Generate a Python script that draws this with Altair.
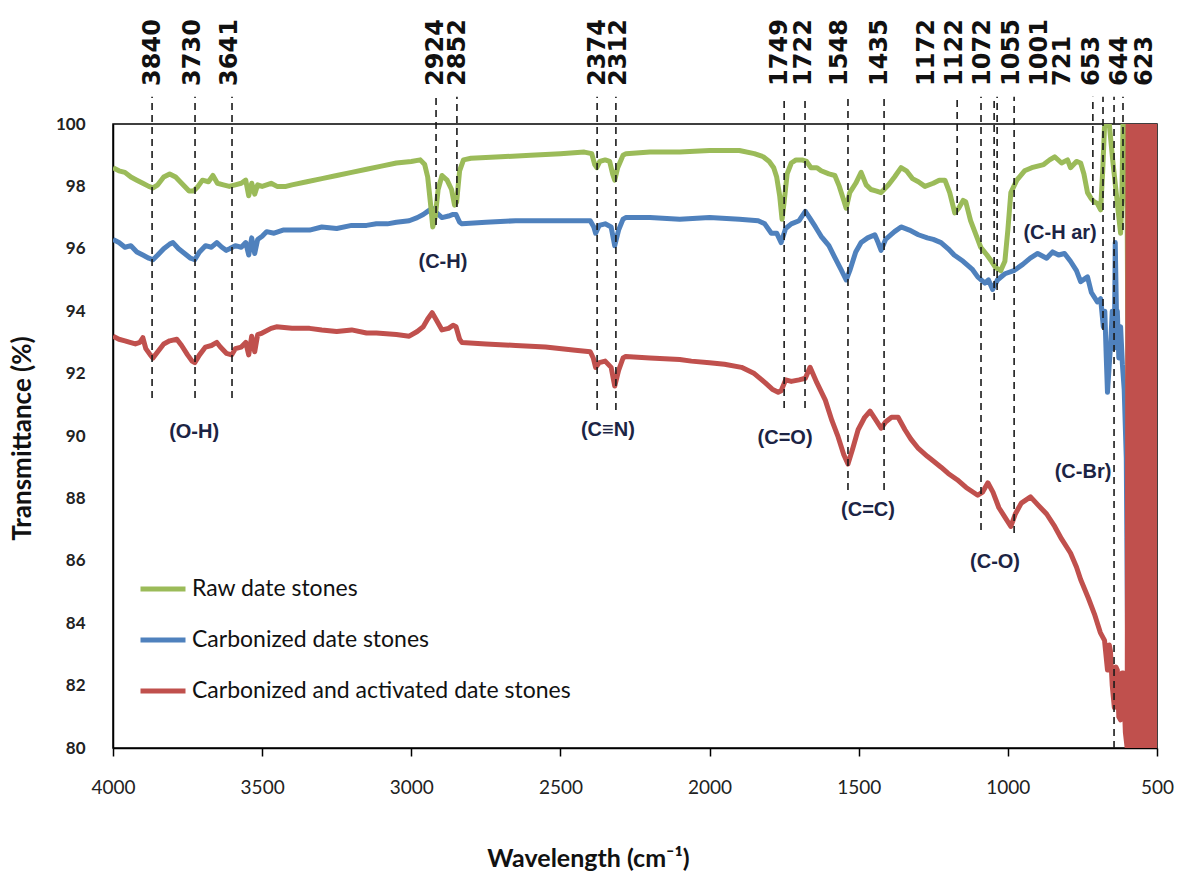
import altair as alt
import pandas as pd

series_names = ["Raw date stones", "Carbonized date stones", "Carbonized and activated date stones"]
series_colors = ["#9bbb59", "#4f81bd", "#c0504d"]

# ---- Raw date stones (green) ----
raw_wave = [4000, 3980, 3960, 3940, 3920, 3900, 3880, 3866, 3850, 3830, 3810, 3790, 3770, 3745, 3730, 3715,
            3700, 3680, 3665, 3650, 3630, 3610, 3590, 3570, 3555, 3545, 3535, 3525, 3515, 3500, 3470, 3450,
            3420, 3400, 3350, 3300, 3250, 3200, 3150, 3100, 3050, 3000, 2970, 2955, 2945, 2935, 2928, 2920,
            2910, 2897, 2880, 2865, 2855, 2848, 2838, 2825, 2800, 2700, 2600, 2500, 2420, 2395, 2385, 2378,
            2368, 2350, 2335, 2325, 2318, 2308, 2290, 2280, 2200, 2100, 2000, 1900, 1850, 1820, 1800, 1785,
            1775, 1765, 1757, 1750, 1740, 1726, 1710, 1690, 1675, 1660, 1640, 1626, 1600, 1580, 1565, 1550,
            1542, 1530, 1510, 1492, 1475, 1459, 1440, 1425, 1400, 1380, 1358, 1340, 1320, 1300, 1278, 1250,
            1230, 1211, 1195, 1178, 1165, 1150, 1141, 1125, 1101, 1091, 1070, 1055, 1041, 1024, 1010, 1000,
            990, 970, 944, 920, 880, 860, 843, 820, 800, 790, 770, 756, 745, 733, 720, 710,
            700, 689, 682, 676, 670, 660, 656, 648, 639, 630, 622, 618, 614, 606, 600, 595,
            590, 580, 560, 550, 540, 520, 505]
raw_val = [98.6, 98.5, 98.45, 98.3, 98.2, 98.1, 98.0, 97.95, 98.05, 98.3, 98.4, 98.3, 98.1, 97.85, 97.85, 98.0,
           98.2, 98.15, 98.35, 98.1, 98.05, 98.0, 98.05, 98.1, 98.2, 97.7, 98.1, 97.75, 98.05, 98.0, 98.1, 98.0,
           98.0, 98.05, 98.15, 98.25, 98.35, 98.45, 98.55, 98.65, 98.75, 98.8, 98.85, 98.7, 98.3, 97.4, 96.7, 97.0,
           97.9, 98.35, 98.2, 97.9, 97.4, 97.5, 98.5, 98.85, 98.9, 98.95, 99.0, 99.05, 99.1, 99.05, 98.7, 98.6,
           98.8, 98.85, 98.8, 98.4, 98.2, 98.6, 99.0, 99.05, 99.1, 99.1, 99.15, 99.15, 99.05, 98.95, 98.8, 98.6,
           98.3, 97.7, 96.95, 97.5, 98.4, 98.75, 98.85, 98.85, 98.8, 98.6, 98.6, 98.5, 98.4, 98.35, 98.0, 97.55,
           97.3, 97.8, 98.1, 98.45, 98.05, 97.9, 97.85, 97.8, 98.05, 98.3, 98.6, 98.5, 98.25, 98.15, 98.0, 98.1,
           98.2, 98.2, 97.8, 97.15, 97.3, 97.55, 97.5, 96.9, 96.3, 96.05, 95.8, 95.6, 95.4, 95.3, 95.6, 96.6,
           97.8, 98.2, 98.5, 98.6, 98.7, 98.85, 98.95, 98.75, 98.85, 98.6, 98.8, 98.75, 98.4, 97.8, 97.6, 97.5,
           97.45, 97.25, 98.5, 99.9, 100.0, 100.0, 99.6, 98.8, 98.0, 97.2, 96.5, 97.5, 100.0, 100.0, 97.0, 88.0,
           82.0, 80.0, 80.5, 82.0, 80.0, 80.2, 80.0]

# ---- Carbonized date stones (blue) ----
carb_wave = [4000, 3980, 3960, 3940, 3920, 3900, 3880, 3866, 3850, 3830, 3810, 3799, 3780, 3760, 3740, 3726,
             3710, 3690, 3670, 3652, 3635, 3620, 3609, 3590, 3570, 3555, 3545, 3535, 3525, 3515, 3500, 3485,
             3460, 3430, 3400, 3341, 3300, 3250, 3200, 3150, 3117, 3080, 3050, 3007, 2980, 2960, 2945, 2930,
             2915, 2897, 2875, 2860, 2850, 2838, 2830, 2750, 2650, 2550, 2450, 2400, 2388, 2382, 2370, 2350,
             2330, 2318, 2305, 2290, 2281, 2200, 2100, 2000, 1900, 1837, 1815, 1793, 1775, 1760, 1745, 1726,
             1700, 1679, 1665, 1645, 1626, 1600, 1579, 1560, 1542, 1530, 1510, 1492, 1470, 1446, 1435, 1425,
             1410, 1380, 1358, 1330, 1300, 1270, 1250, 1224, 1200, 1180, 1150, 1120, 1101, 1077, 1065, 1051,
             1035, 1010, 980, 950, 925, 900, 870, 850, 830, 810, 790, 770, 756, 733, 720, 700,
             689, 680, 675, 670, 666, 660, 655, 650, 646, 643, 640, 636, 633, 628, 622, 616,
             610, 603, 596, 590, 570, 560, 545, 530, 505]
carb_val = [96.3, 96.2, 96.05, 96.1, 95.9, 95.8, 95.7, 95.65, 95.8, 96.0, 96.15, 96.2, 96.0, 95.85, 95.7, 95.65,
            95.9, 96.1, 96.05, 96.2, 96.05, 95.95, 96.0, 96.1, 96.05, 96.2, 95.8, 96.35, 95.85, 96.3, 96.4, 96.55,
            96.5, 96.6, 96.6, 96.6, 96.7, 96.65, 96.75, 96.75, 96.8, 96.8, 96.85, 96.9, 97.0, 97.1, 97.2, 97.3,
            97.15, 97.0, 97.05, 97.1, 97.1, 96.85, 96.8, 96.85, 96.9, 96.9, 96.9, 96.9, 96.7, 96.5, 96.75, 96.8,
            96.7, 96.1, 96.6, 96.95, 97.0, 97.0, 96.95, 97.0, 96.95, 96.9, 96.8, 96.5, 96.5, 96.2, 96.65, 96.8,
            96.9, 97.2, 97.0, 96.7, 96.4, 96.1, 95.7, 95.35, 95.0, 95.3, 95.9, 96.2, 96.35, 96.45, 96.2, 95.95,
            96.3, 96.55, 96.7, 96.6, 96.45, 96.35, 96.3, 96.2, 96.0, 95.8, 95.6, 95.35, 95.1, 94.9, 95.0, 94.7,
            95.0, 95.2, 95.3, 95.5, 95.7, 95.85, 95.7, 95.9, 95.8, 95.85, 95.6, 95.3, 94.95, 95.1, 94.6, 94.3,
            94.4, 93.5, 94.0, 92.5, 91.4, 92.3, 93.0, 94.0, 92.8, 92.85, 96.2, 94.0, 94.0, 92.5, 93.5, 92.3,
            91.5, 89.3, 80.0, 80.5, 81.5, 80.0, 82.0, 80.0, 80.0]

# ---- Carbonized and activated date stones (red) ----
act_wave = [4000, 3980, 3960, 3943, 3925, 3910, 3900, 3890, 3875, 3866, 3850, 3830, 3810, 3786, 3770, 3750,
            3735, 3726, 3710, 3690, 3670, 3652, 3640, 3620, 3602, 3590, 3570, 3555, 3545, 3535, 3525, 3515,
            3500, 3470, 3452, 3400, 3341, 3300, 3250, 3200, 3150, 3117, 3050, 3007, 2980, 2960, 2945, 2930,
            2915, 2897, 2875, 2860, 2850, 2838, 2830, 2750, 2650, 2550, 2450, 2400, 2390, 2382, 2370, 2350,
            2330, 2318, 2305, 2290, 2281, 2200, 2100, 2061, 2000, 1950, 1893, 1850, 1813, 1790, 1770, 1760,
            1745, 1726, 1700, 1679, 1663, 1640, 1612, 1590, 1569, 1550, 1536, 1520, 1502, 1480, 1462, 1445,
            1425, 1410, 1390, 1368, 1345, 1325, 1300, 1270, 1250, 1224, 1200, 1170, 1140, 1101, 1085, 1067,
            1050, 1030, 1010, 990, 975, 955, 924, 900, 870, 843, 820, 790, 770, 756, 730, 710,
            690, 676, 666, 660, 656, 650, 643, 638, 633, 628, 622, 617, 613, 606, 600,
            597, 594, 591, 588, 585, 582, 579, 576, 573, 570, 567, 564, 561, 558, 555, 552,
            549, 546, 543, 540, 537, 534, 531, 528, 525, 522, 519, 516, 513, 510, 507, 504, 501]
act_val = [93.2, 93.1, 93.05, 93.0, 92.95, 93.0, 93.15, 92.8, 92.6, 92.5, 92.7, 92.95, 93.05, 93.1, 92.9, 92.6,
           92.4, 92.35, 92.6, 92.85, 92.9, 93.0, 92.85, 92.65, 92.6, 92.8, 92.85, 93.0, 92.6, 93.2, 92.7, 93.25,
           93.3, 93.45, 93.5, 93.45, 93.45, 93.4, 93.35, 93.4, 93.3, 93.3, 93.25, 93.2, 93.35, 93.5, 93.75, 93.95,
           93.7, 93.4, 93.45, 93.55, 93.5, 93.1, 93.0, 92.95, 92.9, 92.85, 92.75, 92.7, 92.5, 92.2, 92.35, 92.4,
           92.2, 91.6, 92.1, 92.5, 92.55, 92.5, 92.45, 92.4, 92.35, 92.3, 92.2, 92.0, 91.7, 91.5, 91.4, 91.45,
           91.8, 91.75, 91.8, 91.85, 92.2, 91.7, 91.15, 90.5, 89.97, 89.4, 89.1, 89.6, 90.2, 90.6, 90.8, 90.55,
           90.25, 90.45, 90.6, 90.6, 90.2, 89.9, 89.6, 89.35, 89.2, 89.0, 88.8, 88.6, 88.35, 88.1, 88.2, 88.5,
           88.2, 87.7, 87.4, 87.1, 87.5, 87.85, 88.05, 87.8, 87.5, 87.1, 86.7, 86.25, 85.8, 85.4, 84.8, 84.3,
           83.7, 83.45, 82.5, 83.3, 83.1, 82.0, 81.3, 82.6, 82.5, 81.0, 80.9, 82.4, 82.4, 80.5, 80.0,
           100, 80, 100, 80, 100, 80, 100, 80, 100, 80, 100, 80, 100, 80, 100, 80,
           100, 80, 100, 80, 100, 80, 100, 80, 100, 80, 100, 80, 100, 80, 100, 80, 100]

# ---- peak markers ----
peak_labels = ["3840", "3730", "3641", "2924", "2852", "2374", "2312", "1749", "1722", "1548",
               "1435", "1172", "1122", "1072", "1055", "1001", "721", "653", "644", "623"]
label_pos = [3866, 3732, 3608, 2917, 2843, 2374, 2304, 1764, 1683, 1563,
             1429, 1271, 1177, 1083, 986, 892, 815, 718, 624, 540]
line_pos = [3869, 3725, 3601, 2917, 2847, 2377, 2314, 1750, 1680, 1536,
            1415, 1170, 1090, 1046, 1036, 979, 715, 681, 644, 614]
line_bottom = [91.22, 91.22, 91.22, 96.76, 97.34, 90.83, 90.83, 90.9, 90.9, 88.27,
               88.27, 97.08, 86.99, 94.36, 94.68, 86.89, 97.4, 93.4, 80.0, 96.6]

# ---- band annotations ----
band_text = ["(O-H)", "(C-H)", "(C\u2261N)", "(C=O)", "(C=C)", "(C-O)", "(C-H ar)", "(C-Br)"]
band_wave = [3728, 2894, 2341, 1747, 1469, 1043, 825, 748]
band_val = [90.13, 95.58, 90.19, 89.94, 87.63, 85.96, 96.5, 88.85]

frames = []
for name, w, v in zip(series_names, [raw_wave, carb_wave, act_wave], [raw_val, carb_val, act_val]):
    frames.append(pd.DataFrame({"wave": w, "val": v, "series": name, "idx": range(len(w))}))
lines_df = pd.concat(frames, ignore_index=True)

peaks_df = pd.DataFrame({"label": peak_labels, "lpos": label_pos, "pos": line_pos, "bottom": line_bottom})
bands_df = pd.DataFrame({"text": band_text, "wave": band_wave, "val": band_val})

xscale = alt.Scale(domain=[4000, 500], nice=False, zero=False)
yscale = alt.Scale(domain=[80, 100], nice=False, zero=False)
cscale = alt.Scale(domain=series_names, range=series_colors)

xaxis = alt.Axis(values=[4000, 3500, 3000, 2500, 2000, 1500, 1000, 500], format="d", grid=False,
                 tickSize=8, tickWidth=1.5, tickColor="black", domainColor="black", domainWidth=1.5,
                 labelFont="Lato", labelFontSize=19, labelColor="#222", labelPadding=22,
                 labelFlush=False, labelOverlap=False,
                 title="Wavelength (cm\u207b\u00b9)", titleFont="Lato", titleFontSize=25,
                 titleFontWeight="bold", titleColor="#111", titleX=475, titleY=110,
                 titleBaseline="middle", titleAlign="center")
yaxis = alt.Axis(values=list(range(80, 101, 2)), grid=False, ticks=False,
                 domainColor="black", domainWidth=1.5, labelFlush=False, labelOverlap=False,
                 labelFont="Lato", labelFontSize=17, labelFontWeight="bold", labelColor="#222",
                 labelPadding=28, title="Transmittance (%)", titleFont="Lato", titleFontSize=26,
                 titleFontWeight="bold", titleColor="#111", titleAngle=270, titleX=-91, titleY=314,
                 titleBaseline="middle", titleAlign="center")

legend = alt.Legend(title=None, orient="none", legendX=25, legendY=440, symbolType="stroke",
                    symbolSize=2025, symbolStrokeWidth=5, labelFont="Lato", labelFontSize=23,
                    labelColor="#111", labelLimit=600, rowPadding=14, padding=0, labelOffset=4)


def X(field):
    return alt.X(field, scale=xscale, axis=xaxis)


def Y(field):
    return alt.Y(field, scale=yscale, axis=yaxis)


def series_layer(name):
    return (alt.Chart(lines_df).transform_filter(alt.datum.series == name)
            .mark_line(strokeWidth=5, clip=True, strokeJoin="round")
            .encode(x=X("wave:Q"), y=Y("val:Q"),
                    color=alt.Color("series:N", scale=cscale, legend=legend),
                    order="idx:Q"))


blue = series_layer(series_names[1])
green = series_layer(series_names[0])
red = series_layer(series_names[2])

rules = alt.Chart(peaks_df).mark_rule(strokeDash=[7, 5], color="#1a1a1a", strokeWidth=1.6).encode(
    x=X("pos:Q"),
    y=Y("bottom:Q"),
    y2=alt.datum(100.87),
)

top_labels = alt.Chart(peaks_df).mark_text(angle=270, align="left", baseline="middle",
                                           font="DejaVu Sans", fontSize=24, fontWeight="bold",
                                           color="#111").encode(
    x=X("lpos:Q"),
    y=alt.datum(101.22),
    text="label:N",
)

bands = alt.Chart(bands_df).mark_text(font="Liberation Sans", fontSize=20, fontWeight="bold",
                                      color="#1c2444", align="center", baseline="middle").encode(
    x=X("wave:Q"),
    y=Y("val:Q"),
    text="text:N",
)

chart = alt.layer(blue, green, red, rules, top_labels, bands).properties(
    width=1044, height=624,
    autosize=alt.AutoSizeParams(type="none"),
    padding={"left": 113, "top": 124, "right": 20, "bottom": 129},
    background="white",
).configure_view(stroke="black", strokeWidth=1.5)

chart.save("out.html", embed_options={"renderer": "svg", "actions": False})
